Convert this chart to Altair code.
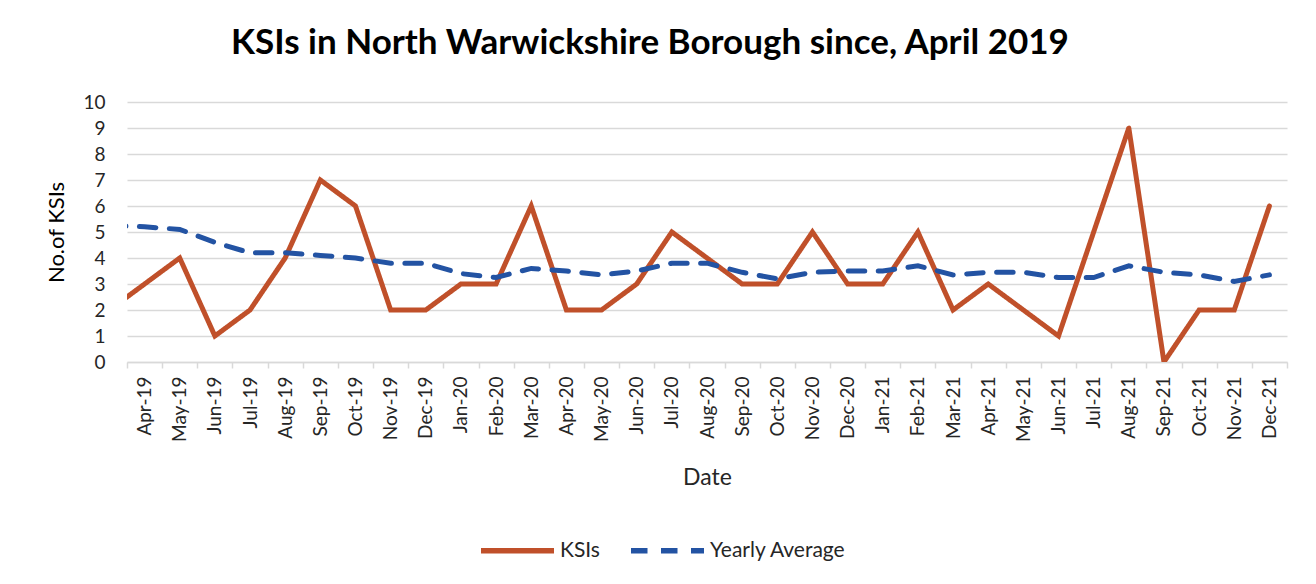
import altair as alt
import pandas as pd

# Mar-19 is the point just before the axis starts (its segment is clipped at the left edge)
months = ["Mar-19", "Apr-19", "May-19", "Jun-19", "Jul-19", "Aug-19", "Sep-19", "Oct-19",
          "Nov-19", "Dec-19", "Jan-20", "Feb-20", "Mar-20", "Apr-20", "May-20", "Jun-20",
          "Jul-20", "Aug-20", "Sep-20", "Oct-20", "Nov-20", "Dec-20", "Jan-21", "Feb-21",
          "Mar-21", "Apr-21", "May-21", "Jun-21", "Jul-21", "Aug-21", "Sep-21", "Oct-21",
          "Nov-21", "Dec-21"]
ksis = [2, 3, 4, 1, 2, 4, 7, 6, 2, 2, 3, 3, 6, 2, 2, 3, 5, 4, 3, 3, 5, 3, 3, 5, 2, 3, 2,
        1, 5, 9, 0, 2, 2, 6]
yearly_avg = [5.25, 5.2, 5.1, 4.6, 4.2, 4.2, 4.1, 4.0, 3.8, 3.8, 3.4, 3.25, 3.6, 3.5, 3.35,
              3.5, 3.8, 3.8, 3.45, 3.2, 3.45, 3.5, 3.5, 3.7, 3.35, 3.45, 3.45, 3.25, 3.25,
              3.7, 3.45, 3.35, 3.1, 3.35]
series_names = ["KSIs", "Yearly Average"]
series_colors = ["#C0502A", "#2353A3"]
y_ticks = list(range(0, 11))

rows = []
for i, m in enumerate(months):
    rows.append({"idx": i, "month": m, "series": series_names[0], "value": ksis[i]})
    rows.append({"idx": i, "month": m, "series": series_names[1], "value": yearly_avg[i]})
df = pd.DataFrame(rows)

W, H = 1160, 260
n_shown = len(months) - 1
band = W / n_shown
tick_values = [i + 0.5 for i in range(len(months))]
label_list = months[1:] + [""]
label_expr = "[" + ",".join("'" + s + "'" for s in label_list) + "][datum.value - 0.5]"

FONT = "Lato"

legend_kw = dict(title=None, orient="none", legendX=351, legendY=409,
                 direction="horizontal", symbolType="stroke",
                 symbolSize=73 * 73, symbolStrokeWidth=5.5,
                 labelFont=FONT, labelFontSize=21, labelColor="#262626",
                 labelOffset=3, columnPadding=20)

chart = alt.Chart(df).mark_line(clip=True, strokeWidth=5, strokeCap="round").encode(
    x=alt.X("idx:Q",
            scale=alt.Scale(domain=[0.5, len(months) - 0.5], nice=False, zero=False),
            axis=alt.Axis(values=tick_values, labelExpr=label_expr, labelAngle=270,
                          labelOffset=band / 2, labelOverlap=False, labelFlush=False,
                          labelFontSize=19, labelFont=FONT, labelColor="#262626",
                          labelPadding=8, ticks=True, tickSize=6, tickColor="#D9D9D9",
                          tickWidth=1.5, domainColor="#D9D9D9", domainWidth=1.5,
                          grid=False, title="Date", titleFont=FONT, titleFontSize=23,
                          titleFontWeight="normal", titleColor="#262626", titlePadding=25)),
    y=alt.Y("value:Q",
            scale=alt.Scale(domain=[0, 10], nice=False),
            axis=alt.Axis(values=y_ticks, ticks=False, tickSize=0, domain=False,
                          labelFontSize=19, labelFont=FONT, labelColor="#262626",
                          labelPadding=22, gridColor="#D9D9D9", gridWidth=1.5,
                          title="No.of KSIs", titleFont=FONT, titleFontSize=22,
                          titleFontWeight="normal", titleColor="#000000", titlePadding=14)),
    color=alt.Color("series:N",
                    scale=alt.Scale(domain=series_names, range=series_colors),
                    legend=alt.Legend(**legend_kw)),
    strokeDash=alt.StrokeDash("series:N",
                              scale=alt.Scale(domain=series_names, range=[[1, 0], [16.5, 13.5]]),
                              legend=alt.Legend(**legend_kw)),
).properties(
    width=W,
    height=H,
    title=alt.TitleParams("KSIs in North Warwickshire Borough since, April 2019",
                          font=FONT, fontSize=35, fontWeight="bold", color="#000000",
                          anchor="middle", offset=32, dx=-57),
    autosize=alt.AutoSizeParams(type="none"),
    padding={"left": 119, "top": 94, "right": 21, "bottom": 205},
    background="white",
).configure_view(stroke="transparent")

chart.save("out.html", embed_options={"renderer": "svg", "actions": False})
